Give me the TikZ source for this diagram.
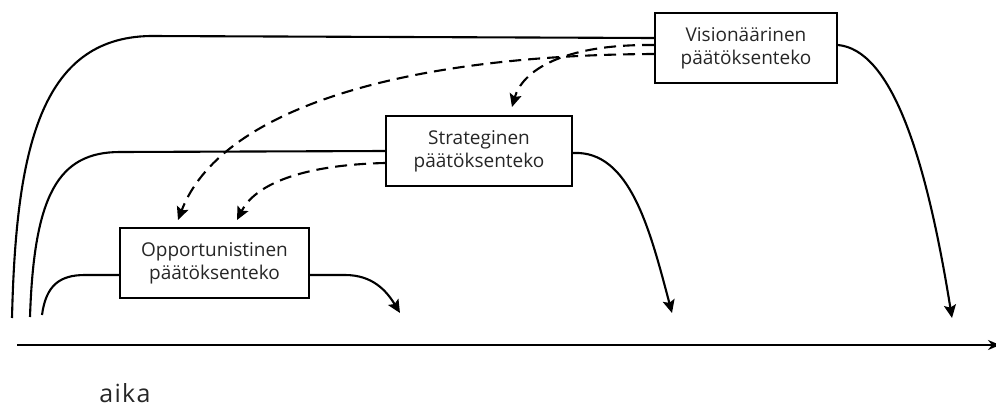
\documentclass[tikz,border=0pt]{standalone}
\usepackage{fontspec}
\setmainfont{Open Sans}
\newfontfamily\axisfont[LetterSpace=5]{Open Sans}
\usetikzlibrary{arrows.meta}
\begin{document}
\begin{tikzpicture}[x=1pt,y=-1pt,
  decision/.style={draw, line width=2pt, minimum width=#1, minimum height=70pt,
    inner sep=0pt, align=center, text=black!85, font=\fontsize{19}{23}\selectfont},
  flow/.style={line width=2.1pt, -{Stealth[length=13pt,width=12pt,inset=2.5pt]}},
  plain/.style={line width=2.1pt},
  influence/.style={flow, dash pattern=on 12pt off 7pt}]
\useasboundingbox (0,0) rectangle (996,407);

% decision levels
\node[decision=182pt] (vis) at (746,48) {Visionäärinen\\päätöksenteko};
\node[decision=186pt] (str) at (479,151) {Strateginen\\päätöksenteko};
\node[decision=189pt] (opp) at (214.5,263) {Opportunistinen\\päätöksenteko};

% time axis
\coordinate (t0) at (17,345);
\coordinate (t1) at (1000,345);
\draw[line width=2.1pt, -{Stealth[length=12pt,width=10pt]}] (t0) -- (t1);
\node[font=\axisfont\fontsize{25}{29}\selectfont, text=black!85, anchor=base, inner sep=0pt] (aika) at (125,402) {aika};

% starting points on the time line
\coordinate (s1) at (12,318);
\coordinate (s2) at (30,317);
\coordinate (s3) at (42,315);

% lines into the boxes
\draw[plain] (s1) .. controls (16,150) and (40,38) .. (150,36) -- ([yshift=10pt]vis.west);
\draw[plain] (s2) .. controls (34,195) and (58,152) .. (120,152) -- (str.west);
\draw[plain] (s3) .. controls (46,285) and (60,275) .. (85,275) -- ([yshift=-12pt]opp.west);

% outcomes
\coordinate (e1) at (400,313);
\coordinate (e2) at (672,313);
\coordinate (e3) at (952,318);
\draw[flow] ([yshift=-12pt]opp.east) -- (345,275) .. controls (372,275) and (386,290) .. (e1);
\draw[flow] ([yshift=-2pt]str.east) .. controls (630,150) and (650,230) .. (e2);
\draw[flow] ([yshift=3pt]vis.east) .. controls (890,50) and (925,150) .. (e3);

% guidance between levels
\coordinate (a1) at (512,107);
\coordinate (a2) at (178,220);
\coordinate (a3) at (237,220);
\draw[influence] ([yshift=3pt]vis.west) .. controls (560,44) and (522,72) .. (a1);
\draw[influence] ([yshift=-6pt]vis.west) .. controls (400,55) and (220,110) .. (a2);
\draw[influence] ([yshift=-12pt]str.west) .. controls (300,165) and (255,185) .. (a3);
\end{tikzpicture}
\end{document}
